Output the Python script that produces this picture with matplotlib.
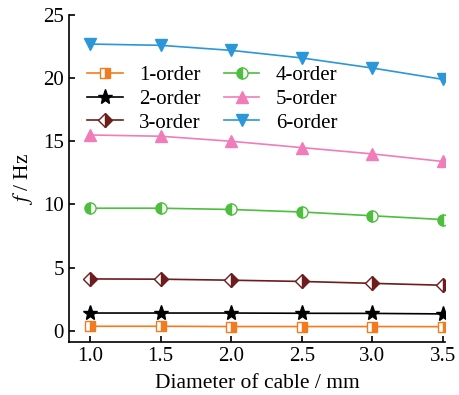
import matplotlib.pyplot as plt

# datos
diametro = [1.0, 1.5, 2.0, 2.5, 3.0, 3.5]
orden1 = [0.35, 0.35, 0.33, 0.33, 0.33, 0.32]
orden2 = [1.4, 1.4, 1.4, 1.38, 1.37, 1.33]
orden3 = [4.1, 4.08, 4.0, 3.9, 3.75, 3.6]
orden4 = [9.7, 9.7, 9.6, 9.4, 9.1, 8.8]
orden5 = [15.5, 15.4, 15.0, 14.5, 14.0, 13.4]
orden6 = [22.7, 22.6, 22.2, 21.6, 20.8, 19.9]
etiquetas = ['1-order', '2-order', '3-order', '4-order', '5-order', '6-order']

plt.rcParams['font.family'] = ['Liberation Serif', 'DejaVu Serif']
plt.rcParams['mathtext.fontset'] = 'stix'

fig = plt.figure(figsize=(4.59, 3.95), dpi=100)
ax = fig.add_axes([0.150, 0.134, 0.820, 0.828])

estilos = [
    dict(color='#F27B1F', marker='s', fillstyle='right', markerfacecoloralt='white', ms=7),
    dict(color='black', marker='*', ms=11),
    dict(color='#6E1C1C', marker='D', fillstyle='right', markerfacecoloralt='white', ms=7),
    dict(color='#4DBE3E', marker='o', fillstyle='left', markerfacecoloralt='white', ms=8),
    dict(color='#F07DBA', marker='^', ms=9),
    dict(color='#2B97D8', marker='v', ms=9),
]
series = [orden1, orden2, orden3, orden4, orden5, orden6]

for y, lab, st in zip(series, etiquetas, estilos):
    ax.plot(diametro, y, label=lab, lw=1.2, mew=1.0, **st)

ax.set_xlim(0.85, 3.515)
ax.set_ylim(-0.9, 25)
ax.set_xticks(diametro)
ax.set_xticklabels(['1.0', '1.5', '2.0', '2.5', '3.0', '3.5'])
ax.set_yticks([0, 5, 10, 15, 20, 25])
ax.tick_params(direction='in', labelsize=15, width=1.2, length=4)
ax.spines['top'].set_visible(False)
ax.spines['right'].set_visible(False)
ax.spines['left'].set_linewidth(1.2)
ax.spines['bottom'].set_linewidth(1.2)

ax.set_xlabel('Diameter of cable / mm', fontsize=15.5, labelpad=6)
ax.set_ylabel(r'$f$ / Hz', fontsize=15.5, labelpad=6)

ax.legend(ncol=2, frameon=False, fontsize=15, loc='upper left',
          bbox_to_anchor=(0.01, 0.89), handlelength=1.7, handletextpad=0.8,
          columnspacing=1.1, labelspacing=0.2, borderaxespad=0.3)

plt.savefig('out.png', dpi=100)
